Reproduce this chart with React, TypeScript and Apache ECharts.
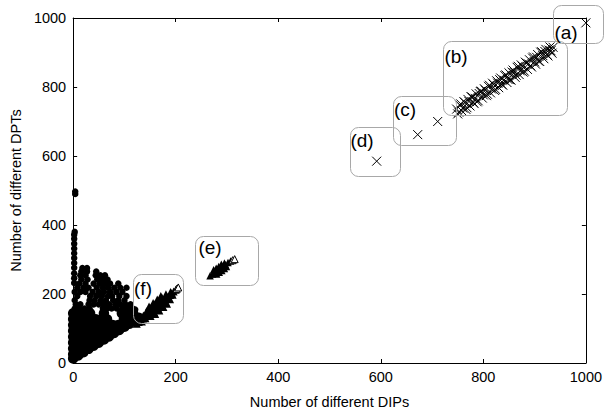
import { useEffect, useRef } from "react";
import * as echarts from "echarts";

// Axis ticks
const xTickValues = [0, 200, 400, 600, 800, 1000];
const yTickValues = [0, 200, 400, 600, 800, 1000];

// Dense core of the blob near the origin [DIPs, DPTs]
const denseCore: number[][] = [
  [0, 13], [10, 22], [20, 31], [30, 41], [40, 50], [50, 59], [60, 68], [70, 77],
  [80, 87], [90, 96], [100, 105], [110, 114], [120, 123], [128, 131],
  [0, 25], [0, 42], [11, 42], [22, 42],
  [0, 59], [11, 59], [22, 59], [33, 59], [44, 59],
  [0, 76], [11, 76], [22, 76], [33, 76], [44, 76], [55, 76],
  [0, 93], [11, 93], [22, 93], [33, 93], [44, 93], [55, 93], [66, 93], [77, 93],
  [0, 110], [11, 110], [22, 110], [33, 110], [44, 110], [55, 110], [66, 110], [77, 110], [88, 110], [99, 110],
  [0, 127], [11, 127], [22, 127], [33, 127], [44, 127], [55, 127], [66, 127], [99, 127], [110, 127],
  [0, 144], [11, 144], [22, 144], [33, 144], [60, 144], [95, 144], [106, 144], [117, 144],
];

// Scattered dots above the core and along the vertical axis
const scatterDots: number[][] = [
  [3, 158], [12, 158], [22, 158], [32, 158], [58, 158], [66, 158], [75, 158], [85, 158], [96, 158], [106, 158], [116, 158],
  [5, 170], [14, 170], [30, 170], [40, 170], [50, 170], [60, 170], [70, 170], [82, 170], [92, 170], [102, 170], [112, 170],
  [3, 182], [32, 182], [42, 182], [54, 182], [64, 182], [78, 182], [88, 182], [100, 182],
  [8, 194], [33, 194], [45, 194], [56, 194], [68, 194], [76, 194], [90, 194], [104, 194],
  [3, 206], [14, 206], [24, 206], [38, 206], [50, 206], [60, 206], [72, 206], [84, 206], [96, 206],
  [8, 218], [20, 218], [30, 218], [46, 218], [58, 218], [68, 218], [80, 218], [92, 218], [104, 218],
  [12, 230], [24, 230], [40, 230], [52, 230], [62, 230], [72, 230], [88, 230],
  [16, 242], [28, 242], [47, 242], [57, 242], [67, 242],
  [14, 254], [24, 254], [44, 254], [53, 254], [62, 254],
  [16, 265], [27, 265], [45, 265],
  [18, 275], [27, 275],
  [117, 145], [121, 155],
  [2, 232], [2, 246], [2, 260], [2, 276], [2, 290], [2, 304], [2, 318], [2, 332],
  [2, 346], [2, 360], [2, 372], [3, 380],
  [4, 490], [4, 497],
];

// Cluster (f): filled body and open triangle tips
const clusterF: number[][] = [
  [124, 114], [132, 124], [139, 134], [147, 143], [154, 153], [162, 163], [170, 173], [177, 183], [185, 192], [192, 202], [200, 212],
  [134, 120], [130, 128], [141, 130], [137, 138], [151, 136], [143, 150], [158, 146], [150, 160],
  [166, 156], [158, 170], [174, 166], [166, 180], [181, 176], [173, 190], [189, 185], [181, 199], [194, 198], [190, 206],
  [128, 119], [136, 129], [143, 139], [151, 148], [158, 158], [166, 168], [174, 178], [181, 188], [189, 197], [196, 207],
  [160, 142], [148, 164], [168, 152], [156, 174], [176, 162], [164, 184], [183, 172], [171, 194],
];
const clusterFTips: number[][] = [[202, 215], [205, 219]];

// Cluster (e)
const clusterE: number[][] = [
  [267, 253], [272, 258], [277, 264], [282, 269], [287, 274], [292, 280], [297, 285], [302, 291], [307, 296],
  [280, 258], [274, 270], [285, 263], [279, 275], [290, 268], [284, 280], [295, 274], [289, 286], [299, 280], [295, 290],
];
const clusterETips: number[][] = [[311, 298], [315, 301]];

// Groups (a) - (d), crosses
const groupA: number[][] = [[1000, 986]];
const groupB: number[][] = [
  [748, 736], [752, 727], [756, 751], [760, 739], [764, 755], [768, 740], [772, 758], [776, 772],
  [780, 756], [784, 767], [788, 757], [792, 781], [796, 788], [800, 777], [804, 791], [808, 779],
  [812, 805], [816, 794], [820, 807], [824, 793], [828, 811], [832, 821], [836, 808], [840, 820],
  [844, 835], [848, 822], [852, 821], [856, 843], [860, 842], [864, 834], [868, 860], [872, 847],
  [876, 860], [880, 846], [884, 869], [888, 867], [892, 862], [896, 884], [900, 873], [904, 886],
  [908, 875], [912, 901], [916, 891], [920, 903], [924, 894], [928, 907], [932, 905], [936, 915],
  [750, 722], [754, 748], [758, 731], [762, 758], [766, 735], [770, 764], [774, 745], [778, 771],
  [782, 752], [786, 780], [790, 760], [794, 787], [798, 768], [802, 795], [806, 775], [810, 802],
  [814, 783], [818, 811], [822, 790], [826, 818], [830, 798], [834, 826], [838, 805], [842, 833],
  [846, 813], [850, 841], [854, 820], [858, 849], [862, 828], [866, 857], [870, 836], [874, 864],
  [878, 843], [882, 872], [886, 851], [890, 879], [894, 858], [898, 887], [902, 866], [906, 894],
  [910, 874], [914, 902], [918, 882], [922, 909], [926, 890], [930, 916], [934, 898],
];
const groupC: number[][] = [[672, 662], [711, 700]];
const groupD: number[][] = [[592, 585]];

const boxLabels = ["(a)", "(b)", "(c)", "(d)", "(e)", "(f)"];

const FONT = "'Liberation Sans', Arial, Helvetica, sans-serif";
const CROSS = "path://M0,0L10,10M10,0L0,10";

export default function App() {
  const ref = useRef<HTMLDivElement>(null);
  useEffect(() => {
    if (!ref.current) return;
    const chart = echarts.init(ref.current, undefined, { renderer: "svg" });
    const axisBase = {
      type: "value" as const,
      min: 0,
      max: 1000,
      interval: 200,
      axisLine: { show: true, onZero: false, lineStyle: { color: "#000", width: 1 } },
      axisTick: { show: true, inside: true, length: 4, lineStyle: { color: "#000" } },
      splitLine: { show: false },
    };
    const labelStyle = { color: "#000", fontSize: 14.5, fontFamily: FONT };
    const fmt = (v: number) => String(v);
    const crossStyle = { color: "rgba(0,0,0,0)", borderColor: "#000", borderWidth: 1, opacity: 1 };
    const dotStyle = { color: "#000", opacity: 1 };
    const openTri = { color: "#fff", borderColor: "#000", borderWidth: 1, opacity: 1 };
    const boxes = [
      [553, 5, 50, 38],
      [443, 41, 124, 74],
      [393, 96, 63, 49],
      [350, 127, 50, 49],
      [195, 236, 63, 49],
      [133, 274, 50, 49],
    ];
    const labelPos = [
      [566, 32],
      [456, 56],
      [405, 109],
      [362, 140],
      [210, 247],
      [143, 288],
    ];
    const graphic: any[] = [];
    boxes.forEach((b) => {
      graphic.push({
        type: "rect",
        z: 10,
        silent: true,
        shape: { x: b[0] + 0.5, y: b[1] + 0.5, width: b[2], height: b[3], r: 8 },
        style: { fill: "none", stroke: "#a8a8a8", lineWidth: 1 },
      });
    });
    boxLabels.forEach((t, i) => {
      graphic.push({
        type: "text",
        z: 11,
        silent: true,
        x: labelPos[i][0],
        y: labelPos[i][1],
        style: {
          text: t,
          fill: "#000",
          fontSize: 19,
          fontFamily: FONT,
          align: "center",
          verticalAlign: "middle",
          textAlign: "center",
          textVerticalAlign: "middle",
        },
      });
    });
    const sc = (name: string, data: number[][], symbol: string, size: number, style: any) => ({
      type: "scatter",
      name,
      data,
      symbol,
      symbolSize: size,
      itemStyle: style,
      clip: false,
      silent: true,
    });
    chart.setOption({
      animation: false,
      backgroundColor: "#fff",
      grid: { left: 72, right: 17, top: 18, bottom: 54, containLabel: false },
      xAxis: [
        {
          ...axisBase,
          position: "bottom",
          axisLabel: { ...labelStyle, margin: 6, formatter: fmt, customValues: xTickValues },
          name: "Number of different DIPs",
          nameLocation: "middle",
          nameGap: 31,
          nameTextStyle: labelStyle,
        },
        { ...axisBase, position: "top", axisLabel: { show: false } },
      ],
      yAxis: [
        {
          ...axisBase,
          position: "left",
          axisLabel: { ...labelStyle, margin: 7, formatter: fmt, customValues: yTickValues },
          name: "Number of different DPTs",
          nameLocation: "middle",
          nameGap: 50,
          nameTextStyle: labelStyle,
        },
        { ...axisBase, position: "right", axisLabel: { show: false } },
      ],
      graphic,
      series: [
        sc("core", denseCore, "circle", 10.5, dotStyle),
        sc("dots", scatterDots, "circle", 6.5, dotStyle),
        sc("f", clusterF, "triangle", 8, dotStyle),
        sc("f tips", clusterFTips, "triangle", 7, openTri),
        sc("e", clusterE, "triangle", 7.5, dotStyle),
        sc("e tips", clusterETips, "triangle", 7, openTri),
        sc("a", groupA, CROSS, 9, crossStyle),
        sc("b", groupB, CROSS, 9, crossStyle),
        sc("c", groupC, CROSS, 9, crossStyle),
        sc("d", groupD, CROSS, 9, crossStyle),
      ],
    });
    return () => chart.dispose();
  }, []);
  return (
    <div
      ref={ref}
      style={{ position: "fixed", left: 0, top: 0, width: 605, height: 417, background: "#fff" }}
    />
  );
}
